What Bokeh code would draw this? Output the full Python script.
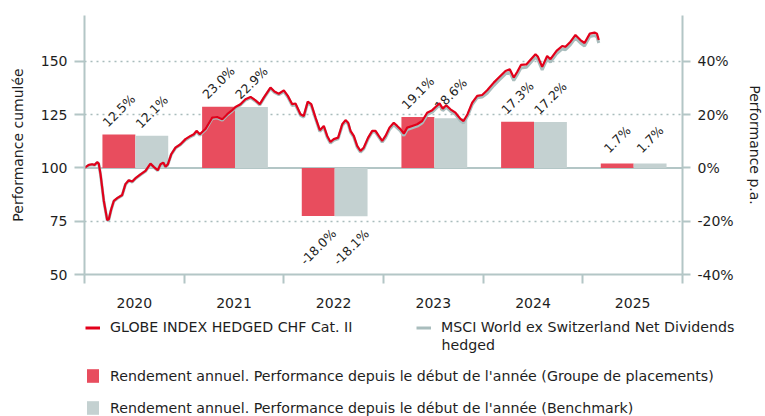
import math
from bokeh.plotting import figure
from bokeh.models import (Range1d, LinearAxis, FixedTicker, PrintfTickFormatter, Span,
                          Legend, LegendItem, Label, ColumnDataSource)
from bokeh.core.properties import value
from bokeh.embed import file_html
from bokeh.resources import INLINE

# ---------------- data ----------------
years = ["2020", "2021", "2022", "2023", "2024", "2025"]
fund_ret = [12.5, 23.0, -18.0, 19.1, 17.3, 1.7]
bench_ret = [12.1, 22.9, -18.1, 18.6, 17.2, 1.7]

line_t = [2020.000, 2020.043, 2020.077, 2020.100, 2020.127, 2020.143, 2020.161, 2020.194, 2020.228, 2020.244,
          2020.268, 2020.294, 2020.328, 2020.378, 2020.411, 2020.444, 2020.479, 2020.512, 2020.562, 2020.612,
          2020.662, 2020.695, 2020.735, 2020.763, 2020.790, 2020.813, 2020.836, 2020.870, 2020.913, 2020.963,
          2021.013, 2021.064, 2021.097, 2021.124, 2021.157, 2021.214, 2021.281, 2021.331, 2021.382, 2021.432,
          2021.482, 2021.515, 2021.565, 2021.615, 2021.666, 2021.716, 2021.759, 2021.799, 2021.866, 2021.906,
          2021.949, 2022.000, 2022.040, 2022.084, 2022.117, 2022.167, 2022.200, 2022.240, 2022.275, 2022.318,
          2022.361, 2022.401, 2022.435, 2022.468, 2022.501, 2022.545, 2022.586, 2022.619, 2022.646, 2022.669,
          2022.702, 2022.736, 2022.769, 2022.802, 2022.846, 2022.887, 2022.920, 2022.953, 2022.987, 2023.020,
          2023.060, 2023.103, 2023.137, 2023.170, 2023.204, 2023.238, 2023.288, 2023.338, 2023.388, 2023.438,
          2023.489, 2023.522, 2023.562, 2023.595, 2023.629, 2023.672, 2023.722, 2023.772, 2023.803, 2023.843,
          2023.890, 2023.940, 2023.990, 2024.040, 2024.106, 2024.157, 2024.224, 2024.267, 2024.307, 2024.341,
          2024.379, 2024.435, 2024.475, 2024.525, 2024.550, 2024.592, 2024.642, 2024.675, 2024.736, 2024.793,
          2024.826, 2024.876, 2024.926, 2024.976, 2025.017, 2025.070, 2025.117, 2025.142, 2025.160]

fund_line = [100.0, 101.4, 101.7, 101.4, 102.7, 102.0, 97.0, 84.5, 75.5, 75.9,
             80.6, 84.5, 85.8, 87.3, 92.4, 94.2, 93.6, 95.2, 97.0, 98.6,
             102.0, 100.5, 98.9, 101.7, 102.5, 100.5, 101.7, 106.4, 109.5, 111.1,
             113.5, 115.0, 115.8, 117.4, 115.8, 118.3, 123.6, 123.9, 122.8, 125.2,
             127.1, 128.6, 129.9, 132.2, 133.3, 131.7, 129.9, 133.0, 137.7, 135.8,
             134.8, 136.4, 133.8, 129.9, 130.2, 125.2, 124.4, 131.1, 129.9, 123.6,
             117.7, 119.7, 115.0, 112.2, 113.5, 114.2, 120.5, 122.4, 121.2, 117.4,
             115.0, 110.3, 108.0, 109.5, 114.2, 117.4, 117.4, 115.0, 112.7, 115.0,
             118.9, 121.2, 119.7, 118.2, 116.1, 118.9, 119.7, 120.5, 122.0, 125.9,
             127.1, 128.6, 130.3, 127.8, 129.4, 127.5, 125.9, 123.0, 122.0, 125.2,
             130.6, 133.8, 134.2, 136.4, 140.0, 142.4, 145.5, 146.3, 142.4, 145.0,
             148.3, 148.6, 150.7, 153.3, 152.1, 147.4, 152.5, 151.0, 154.9, 157.2,
             156.8, 159.2, 162.4, 160.0, 158.6, 163.0, 163.5, 162.9, 160.0]

bench_line = [100.0, 101.2, 101.5, 101.2, 102.5, 101.8, 96.8, 84.3, 75.3, 75.7,
              80.4, 84.3, 85.6, 87.1, 92.2, 94.0, 93.4, 95.0, 96.8, 98.4,
              101.8, 100.3, 98.7, 101.5, 102.3, 100.3, 101.5, 106.2, 109.3, 110.9,
              113.1, 114.6, 115.4, 117.0, 115.4, 117.9, 123.2, 123.5, 122.4, 124.8,
              126.7, 128.2, 129.5, 131.8, 132.9, 131.3, 129.5, 132.6, 137.3, 135.4,
              134.4, 135.8, 133.2, 129.3, 129.6, 124.6, 123.8, 130.5, 129.3, 123.0,
              117.1, 119.1, 114.4, 111.6, 112.9, 113.6, 119.9, 121.8, 120.6, 116.8,
              114.4, 109.7, 107.4, 108.9, 113.6, 116.8, 116.8, 114.4, 112.1, 114.1,
              118.0, 120.3, 118.8, 117.3, 115.2, 118.0, 118.8, 119.6, 121.1, 125.0,
              126.2, 127.7, 129.4, 126.9, 128.5, 126.6, 125.0, 122.1, 121.1, 124.3,
              129.7, 132.9, 133.3, 135.0, 138.6, 141.0, 144.1, 144.9, 141.0, 143.6,
              146.9, 147.2, 149.3, 151.9, 150.7, 146.0, 151.1, 149.6, 153.5, 155.8,
              155.4, 157.8, 161.0, 158.6, 157.2, 161.6, 162.1, 161.5, 158.6]

left_ticks = [50, 75, 100, 125, 150]
right_ticks = [-40, -20, 0, 20, 40]

fund_name = "GLOBE INDEX HEDGED CHF Cat. II"
bench_name_1 = "MSCI World ex Switzerland Net Dividends"
bench_name_2 = "hedged"
bar_fund_name = "Rendement annuel. Performance depuis le début de l'année (Groupe de placements)"
bar_bench_name = "Rendement annuel. Performance depuis le début de l'année (Benchmark)"

# ---------------- style ----------------
FONT = "DejaVu Sans"
RED_LINE = "#e2001a"
RED_BAR = "#e84d5e"
GREY_BAR = "#c4d1d1"
GREY_LINE = "#a9bdbd"
AXIS = "#b3c6c6"
TEXT = "#1e1e1e"

W = 765
H_CHART = 310
H_LEG = 106

n = len(years)
base_year = 2020.0
pct_per_unit = 0.8  # 25 index points == 20 %
y_lo, y_hi = 50, 171.5

p = figure(width=W, height=H_CHART, output_backend="svg", toolbar_location=None,
           x_range=Range1d(0, n), y_range=Range1d(y_lo, y_hi),
           min_border_left=84, min_border_right=83, min_border_top=15, min_border_bottom=36)
p.extra_y_ranges = {"pct": Range1d((y_lo - 100) * pct_per_unit, (y_hi - 100) * pct_per_unit)}
p.outline_line_color = None
p.xgrid.visible = False
p.ygrid[0].ticker = FixedTicker(ticks=[t for t in left_ticks if t not in (50, 100)])
p.ygrid.grid_line_color = "#a9bcbc"
p.ygrid.grid_line_dash = "2 4"
p.ygrid.grid_line_width = 1.5

p.add_layout(Span(location=100, dimension="width", line_color=AXIS, line_width=2, level="underlay"))

# bars
bw = 0.33
src = ColumnDataSource(dict(
    xf=[i + 0.18 + bw / 2 for i in range(n)],
    xb=[i + 0.18 + bw * 1.5 for i in range(n)],
    fund=fund_ret, bench=bench_ret,
    lf=[f"{v:.1f}%" for v in fund_ret], lb=[f"{v:.1f}%" for v in bench_ret],
    of=[-24 if v >= 0 else 31 for v in fund_ret], ob=[-24 if v >= 0 else 31 for v in bench_ret],
))
p.vbar(x="xf", top="fund", bottom=0, width=bw, fill_color=RED_BAR, line_color=None, y_range_name="pct", source=src)
p.vbar(x="xb", top="bench", bottom=0, width=bw, fill_color=GREY_BAR, line_color=None, y_range_name="pct", source=src)

for xcol, ycol, lcol, ocol in (("xf", "fund", "lf", "of"), ("xb", "bench", "lb", "ob")):
    p.text(x=xcol, y=ycol, text=lcol, y_offset=ocol, angle=math.pi / 4, source=src, y_range_name="pct",
           text_align="center", text_baseline="middle", text_font=value(FONT),
           text_font_size="12.5px", text_color=TEXT)

# lines
xs = [t - base_year for t in line_t]
p.line(xs, bench_line, line_color=GREY_LINE, line_width=3)
p.line(xs, fund_line, line_color=RED_LINE, line_width=2.2)

# axes
xa = p.xaxis[0]
xa.ticker = FixedTicker(ticks=[i + 0.5 for i in range(n)], minor_ticks=list(range(n + 1)))
xa.major_label_overrides = {i + 0.5: y for i, y in enumerate(years)}
xa.major_tick_out = 0
xa.major_tick_in = 0
xa.minor_tick_out = 9
xa.minor_tick_in = 0
xa.minor_tick_line_color = AXIS
xa.minor_tick_line_width = 2
xa.axis_line_color = AXIS
xa.axis_line_width = 2
xa.major_label_standoff = 14
xa.major_label_text_font = FONT
xa.major_label_text_font_size = "14px"
xa.major_label_text_color = TEXT

ya = p.yaxis[0]
ya.ticker = FixedTicker(ticks=left_ticks)
ya.axis_label = "Performance cumulée"

ra = LinearAxis(y_range_name="pct", ticker=FixedTicker(ticks=right_ticks),
                formatter=PrintfTickFormatter(format="%d%%"), axis_label="Performance p.a.")
p.add_layout(ra, "right")

for ax, standoff, tick_out in ((ya, 12, 10), (ra, 10, 8)):
    ax.major_tick_out = tick_out
    ax.major_tick_in = 0
    ax.minor_tick_out = 0
    ax.minor_tick_in = 0
    ax.major_tick_line_color = AXIS
    ax.major_tick_line_width = 2
    ax.axis_line_color = AXIS
    ax.axis_line_width = 2
    ax.major_label_standoff = 7
    ax.major_label_text_font = FONT
    ax.major_label_text_font_size = "14px"
    ax.major_label_text_color = TEXT
    ax.axis_label_text_font = FONT
    ax.axis_label_text_font_size = "14px"
    ax.axis_label_text_font_style = "normal"
    ax.axis_label_text_color = TEXT
    ax.axis_label_standoff = standoff

# ---------------- legend panel (separate root, frame = whole figure) ----------------
lg = figure(width=W, height=H_LEG, output_backend="svg", toolbar_location=None,
            x_range=Range1d(0, 1), y_range=Range1d(0, 1),
            x_axis_location=None, y_axis_location=None, min_border=0)
lg.outline_line_color = None
lg.grid.visible = False
# legend-only proxies (outside the visible range)
px_fl = lg.line([5, 6], [5, 6], line_color=RED_LINE, line_width=3)
px_bl = lg.line([5, 6], [5, 6], line_color=GREY_LINE, line_width=3)
px_fb = lg.vbar(x=[5], top=[6], bottom=5, width=0.5, fill_color=RED_BAR, line_color=None)
px_bb = lg.vbar(x=[5], top=[6], bottom=5, width=0.5, fill_color=GREY_BAR, line_color=None)

LEG_FS = "14.2px"


def make_legend(items, loc, gw=15, gh=15, lh=20, spacing=0):
    leg = Legend(items=items, location=loc, orientation="vertical",
                 glyph_width=gw, glyph_height=gh, label_height=lh, label_standoff=10,
                 spacing=spacing, padding=0, margin=0, border_line_color=None,
                 background_fill_alpha=0, label_text_font=FONT, label_text_font_size=LEG_FS,
                 label_text_color=TEXT)
    lg.add_layout(leg)
    return leg


make_legend([LegendItem(label=fund_name, renderers=[px_fl])], (85, 79))
make_legend([LegendItem(label=bench_name_1, renderers=[px_bl])], (416, 79))
lg.add_layout(Label(x=441, y=72, x_units="screen", y_units="screen", text=bench_name_2,
                    text_baseline="middle", text_font=FONT, text_font_size=LEG_FS, text_color=TEXT))
make_legend([LegendItem(label=bar_fund_name, renderers=[px_fb]),
             LegendItem(label=bar_bench_name, renderers=[px_bb])], (85, 0),
            gw=15, gh=17, lh=17, spacing=15)

open("out.html", "w").write(file_html([p, lg], INLINE))
